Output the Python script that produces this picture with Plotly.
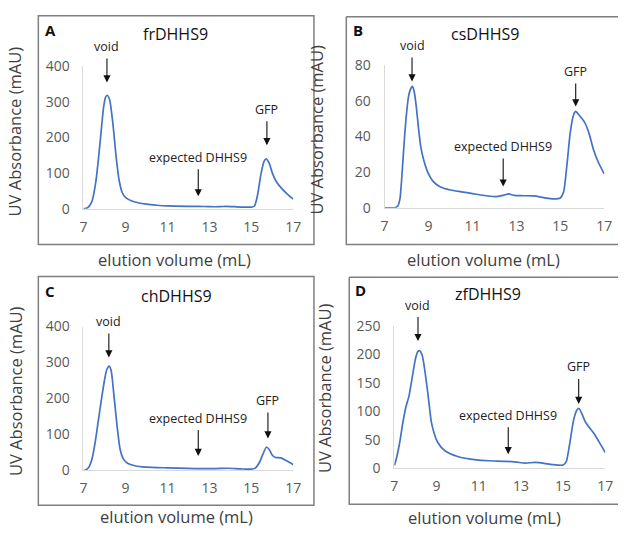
import plotly.graph_objects as go

# ---------------- data ----------------
x_A = [7.0, 7.2, 7.4, 7.6, 7.8, 7.95, 8.05, 8.13, 8.25, 8.4, 8.55, 8.7, 8.85, 9.0, 9.3, 9.6, 10.0, 10.5, 11.0, 12.0, 12.5, 13.0, 13.5, 13.8, 14.2, 14.6, 15.0, 15.15, 15.3, 15.45, 15.6, 15.7, 15.85, 16.0, 16.2, 16.4, 16.7, 17.0]
y_A = [0, 3, 20, 80, 190, 280, 312, 318, 305, 240, 150, 80, 45, 32, 22, 17, 13, 10, 8, 7, 7, 6, 6, 7, 6, 5, 5, 8, 40, 95, 132, 140, 128, 100, 75, 60, 42, 27]

x_B = [7.0, 7.5, 7.6, 7.7, 7.8, 7.9, 8.0, 8.1, 8.2, 8.27, 8.35, 8.45, 8.55, 8.65, 8.8, 9.0, 9.2, 9.5, 10.0, 10.5, 11.0, 11.5, 12.0, 12.4, 12.65, 12.9, 13.3, 13.8, 14.3, 14.7, 15.0, 15.15, 15.3, 15.45, 15.6, 15.7, 15.85, 16.1, 16.3, 16.5, 16.75, 17.0]
y_B = [0, 0.2, 1, 5, 20, 38, 53, 63, 67, 68, 65, 56, 44, 34, 26, 19, 15, 12, 10, 9, 8, 7, 6.3, 7, 7.8, 7, 6.8, 6.7, 5.6, 5, 5.5, 9, 24, 42, 52, 54, 52, 48, 42, 33, 25, 19]

x_C = [7.0, 7.1, 7.25, 7.4, 7.55, 7.7, 7.85, 8.0, 8.1, 8.22, 8.32, 8.45, 8.6, 8.75, 8.9, 9.1, 9.45, 10.0, 11.0, 12.0, 12.6, 13.3, 13.9, 14.5, 15.0, 15.2, 15.4, 15.55, 15.72, 15.85, 16.0, 16.15, 16.4, 16.7, 17.0]
y_C = [0, 1, 8, 30, 75, 135, 195, 250, 278, 290, 278, 210, 125, 58, 32, 20, 13, 9, 7, 5.5, 5, 5, 6, 4, 3.5, 7, 24, 45, 65, 58, 42, 36, 35, 26, 16]

x_D = [7.0, 7.1, 7.25, 7.4, 7.55, 7.7, 7.85, 8.0, 8.12, 8.2, 8.32, 8.45, 8.6, 8.75, 8.9, 9.05, 9.4, 10.0, 10.9, 11.5, 12.3, 12.8, 13.2, 13.7, 14.1, 14.5, 15.0, 15.15, 15.3, 15.5, 15.65, 15.76, 15.9, 16.05, 16.2, 16.45, 16.7, 17.0]
y_D = [5, 18, 45, 80, 108, 128, 160, 192, 205, 206, 198, 170, 128, 82, 60, 46, 31, 21, 15, 13.5, 12.5, 11, 9.5, 10.5, 9, 6.7, 6, 12, 40, 85, 102, 105, 95, 82, 74, 62, 47, 28]

panel_letters = ["A", "B", "C", "D"]
panel_names = ["frDHHS9", "csDHHS9", "chDHHS9", "zfDHHS9"]
y_max = [400, 80, 400, 250]
y_step = [100, 20, 100, 50]
x_ticks = [7, 9, 11, 13, 15, 17]
x_title = "elution volume (mL)"
y_title = "UV Absorbance (mAU)"

# arrow labels: (text, x of arrow, arrow-tip y in data units, text offset above tip in px)
labels = {
    0: [("void", 8.12, 354, 36), ("expected DHHS9", 12.47, 35, 39), ("GFP", 15.74, 178, 36)],
    1: [("void", 8.25, 70.8, 36), ("expected DHHS9", 12.4, 11.9, 40), ("GFP", 15.7, 56.8, 35)],
    2: [("void", 8.21, 314, 36), ("expected DHHS9", 12.47, 40, 38), ("GFP", 15.79, 89, 38)],
    3: [("void", 8.12, 223, 36), ("expected DHHS9", 12.4, 25, 39), ("GFP", 15.74, 113, 37)],
}

series = [(x_A, y_A), (x_B, y_B), (x_C, y_C), (x_D, y_D)]

W, H = 626, 546
FONT = "Open Sans"

# plot areas in pixels (left, right, top, bottom)
areas = [(81, 295, 58, 206), (388, 612, 57, 205), (81, 295, 328, 477), (398, 613, 327, 475)]
boxes = [(35, 316, 6, 243), (349, 626, 7, 243), (35, 316, 276, 513), (352, 626, 277, 512)]
letter_pos = [(47, 21), (361, 21), (47, 291), (363, 290)]
name_pos = [(175, 25), (490, 25), (176, 296), (493, 294)]
ytitle_pos = [(11, 126), (319, 124), (11, 395), (327, 392)]
xtitle_pos = [(174, 259), (489, 259), (176, 525), (490, 526)]

def px(x):
    return x / W

def py(y):
    return 1 - y / H

fig = go.Figure()
layout = dict(
    width=W, height=H, margin=dict(l=0, r=0, t=0, b=0),
    paper_bgcolor="white", plot_bgcolor="white", showlegend=False,
)
annotations = []
shapes = []

def paper_text(txt, xy, size, color, bold=False, angle=0):
    return dict(text=("<b>%s</b>" % txt) if bold else txt, x=px(xy[0]), y=py(xy[1]),
                xref="paper", yref="paper", xanchor="center", yanchor="middle",
                showarrow=False, textangle=angle,
                font=dict(family=FONT, size=size, color=color))

for i, (xs, ys) in enumerate(series):
    n = "" if i == 0 else str(i + 1)
    fig.add_trace(go.Scatter(
        x=xs, y=ys, mode="lines", line=dict(color="#4472C4", width=1.7, shape="spline", smoothing=0.6),
        xaxis="x" + n, yaxis="y" + n, hoverinfo="skip",
    ))
    l, r, t, b = areas[i]
    layout["xaxis" + n] = dict(
        domain=[px(l), px(r)], range=[7, 17], tickvals=x_ticks, anchor="y" + n,
        showgrid=False, zeroline=False, showline=True, linecolor="#d9d9d9", linewidth=1,
        ticks="", ticklabelstandoff=5, tickfont=dict(family=FONT, size=14, color="#595959"),
    )
    layout["yaxis" + n] = dict(
        domain=[py(b), py(t)], range=[0, y_max[i]], dtick=y_step[i], anchor="x" + n,
        showgrid=False, zeroline=False, showline=True, linecolor="#d9d9d9", linewidth=1,
        ticks="", ticklabelstandoff=10, tickfont=dict(family=FONT, size=14, color="#595959"),
    )
    bx0, bx1, by0, by1 = boxes[i]
    if bx1 >= W:
        # box runs off the right edge of the picture: draw left, top and bottom sides only
        path = "M %f,%f L %f,%f M %f,%f L %f,%f L %f,%f" % (
            px(bx1), py(by0), px(bx0), py(by0), px(bx0), py(by0), px(bx0), py(by1), px(bx1), py(by1))
        shapes.append(dict(type="path", xref="paper", yref="paper", path=path,
                           line=dict(color="#7f7f7f", width=1.5)))
    else:
        shapes.append(dict(type="rect", xref="paper", yref="paper",
                           x0=px(bx0), x1=px(bx1), y0=py(by1), y1=py(by0),
                           line=dict(color="#7f7f7f", width=1.5)))
    annotations.append(paper_text(panel_letters[i], letter_pos[i], 15, "#111111", bold=True))
    annotations.append(paper_text(panel_names[i], name_pos[i], 16, "#111111"))
    annotations.append(paper_text(y_title, ytitle_pos[i], 16.5, "#404040", angle=-90))
    annotations.append(paper_text(x_title, xtitle_pos[i], 16.5, "#404040"))
    for (txt, tx, tipy, off) in labels[i]:
        annotations.append(dict(text=txt, x=tx, y=tipy, xref="x" + n, yref="y" + n, showarrow=True,
                                ax=0, ay=-off, arrowhead=2, arrowsize=1.3, arrowwidth=1.1,
                                arrowcolor="#111111", standoff=0, borderpad=3,
                                font=dict(family=FONT, size=12.5, color="#222222")))

layout["annotations"] = annotations
layout["shapes"] = shapes
fig.update_layout(**layout)
fig.write_html("out.html")
